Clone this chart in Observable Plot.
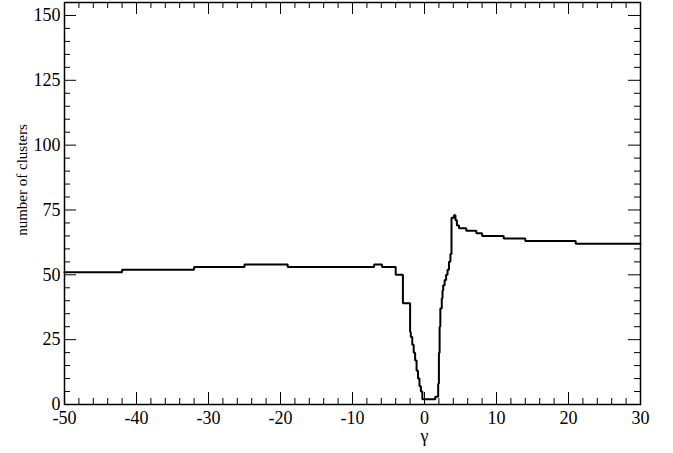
<!DOCTYPE html>
<html><head><meta charset="utf-8">
<script src="https://cdn.jsdelivr.net/npm/d3@7"></script>
<script src="https://cdn.jsdelivr.net/npm/@observablehq/plot@0.6"></script>
<style>
body{margin:0;background:#fff}
svg text{font-family:"Liberation Serif","Times New Roman","DejaVu Serif",serif !important;}
</style>
</head><body><div id="chart"></div>
<script>
// step-after data: value holds from gamma[i] until gamma[i+1]
const gamma = [-50, -42, -32, -25, -19, -7, -5.9, -4.0, -3.0, -2.0, -1.9, -1.7, -1.5, -1.3, -1.1, -0.9, -0.7, -0.5, -0.3, 1.5, 1.9, 2.0, 2.1, 2.2, 2.4, 2.5, 2.6, 2.8, 3.0, 3.2, 3.4, 3.6, 3.75, 4.1, 4.3, 4.5, 4.8, 5.0, 5.8, 7.2, 8.0, 11, 14, 21, 30];
const clusters = [51, 52, 53, 54, 53, 54, 53, 50, 39, 28, 26, 23, 20, 17, 13, 10, 7, 5, 2, 3, 8, 20, 30, 37, 41, 44, 46, 48, 50, 52, 55, 58, 72, 73, 71, 69, 68, 68, 67, 66, 65, 64, 63, 62, 62];
const xTickLabels = [-50, -40, -30, -20, -10, 0, 10, 20, 30];
const yTickLabels = [0, 25, 50, 75, 100, 125, 150];
const xLabel = "γ";
const yLabel = "number of clusters";

const data = gamma.map((g, i) => ({g, n: clusters[i]}));
const W = 673, H = 453, mL = 64, mR = 33, mT = 2, mB = 49;
const innerW = W - mL - mR, innerH = H - mT - mB;
const xMinor = d3.range(-50, 30.001, 2).filter(v => v % 10 !== 0);
const yMinor = d3.range(0, 155.001, 5).filter(v => v % 25 !== 0);
const MAJ = 12, MIN = 6;
const font = "Liberation Serif, Times New Roman, serif";

const chart = Plot.plot({
  width: W, height: H,
  marginLeft: mL, marginRight: mR, marginTop: mT, marginBottom: mB,
  style: {fontFamily: font, fontSize: "18px", color: "#000", background: "#fff"},
  x: {domain: [-50, 30], label: null},
  y: {domain: [0, 155], label: null},
  marks: [
    Plot.axisX({ticks: xTickLabels, tickSize: 0, tickPadding: 7, tickFormat: d => String(d), fontSize: 18}),
    Plot.axisY({ticks: yTickLabels, tickSize: 0, tickPadding: 4, tickFormat: d => String(d), fontSize: 18}),
    // inward ticks: bottom & top
    Plot.tickX(xTickLabels, {x: d => d, insetTop: innerH - MAJ, stroke: "#000", strokeWidth: 1}),
    Plot.tickX(xMinor, {x: d => d, insetTop: innerH - MIN, stroke: "#000", strokeWidth: 1}),
    Plot.tickX(xTickLabels, {x: d => d, insetBottom: innerH - MAJ, stroke: "#000", strokeWidth: 1}),
    Plot.tickX(xMinor, {x: d => d, insetBottom: innerH - MIN, stroke: "#000", strokeWidth: 1}),
    // inward ticks: left & right
    Plot.tickY(yTickLabels, {y: d => d, insetRight: innerW - MAJ, stroke: "#000", strokeWidth: 1}),
    Plot.tickY(yMinor, {y: d => d, insetRight: innerW - MIN, stroke: "#000", strokeWidth: 1}),
    Plot.tickY(yTickLabels, {y: d => d, insetLeft: innerW - MAJ, stroke: "#000", strokeWidth: 1}),
    Plot.tickY(yMinor, {y: d => d, insetLeft: innerW - MIN, stroke: "#000", strokeWidth: 1}),
    Plot.frame({stroke: "#000", strokeWidth: 1.5}),
    Plot.line(data, {x: "g", y: "n", curve: "step-after", stroke: "#000", strokeWidth: 2, strokeLinejoin: "miter"}),
    Plot.text([xLabel], {x: [0], frameAnchor: "bottom", dy: 37, fontSize: 18, fill: "#000"})
  ]
});
document.getElementById("chart").appendChild(chart);

const svg = d3.select(chart);
svg.append("text")
  .attr("transform", "translate(22,180) rotate(-90)")
  .attr("text-anchor", "middle")
  .attr("dominant-baseline", "central")
  .attr("font-size", 15)
  .attr("fill", "#000")
  .text(yLabel);
</script>
</body></html>
